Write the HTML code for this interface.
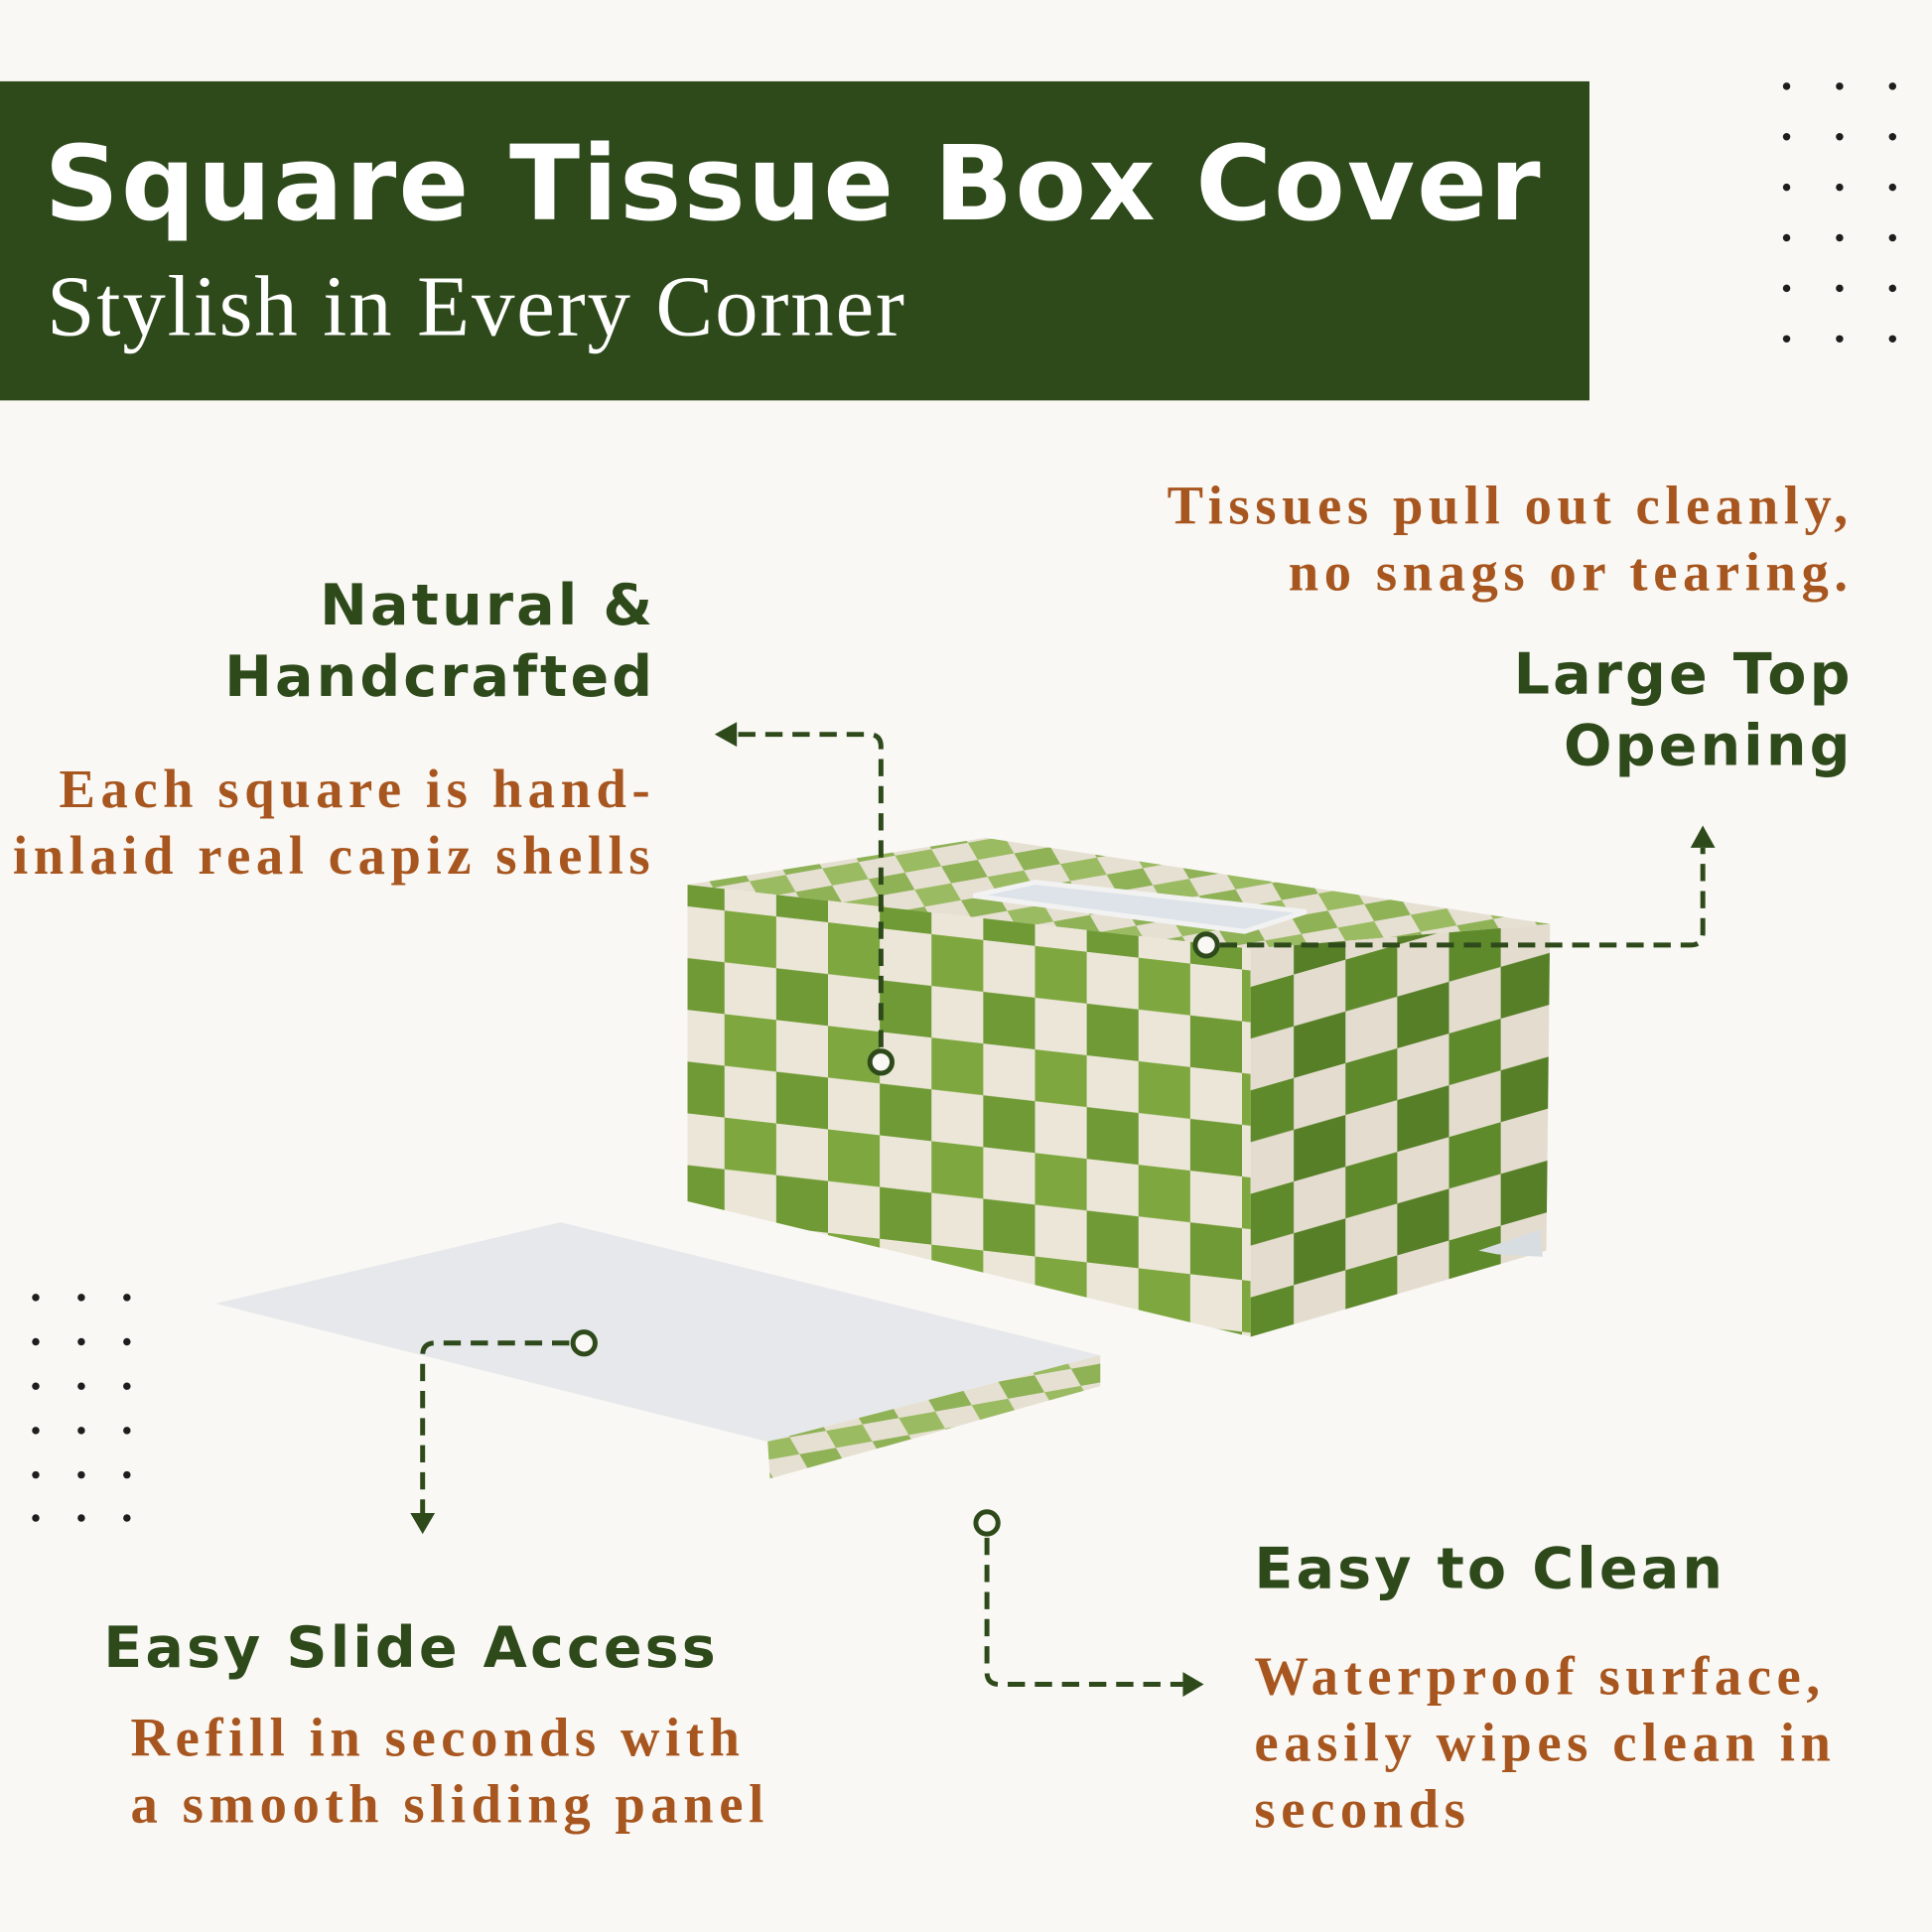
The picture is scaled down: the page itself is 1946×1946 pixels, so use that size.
<!DOCTYPE html>
<html><head><meta charset="utf-8"><style>
html,body{margin:0;padding:0;background:#f9f8f4;}
#wrap{width:1946px;height:1946px;overflow:hidden;position:relative;}
#s{width:1568px;height:1568px;position:absolute;left:0;top:0;transform:scale(1.24107);transform-origin:0 0;background:#f9f8f4;}
.t{position:absolute;white-space:nowrap;}
.h{font-family:"DejaVu Sans","Liberation Sans",sans-serif;font-weight:bold;color:#2e4a1b;font-size:46px;letter-spacing:2.5px;line-height:58px;}
.b{font-family:"Liberation Serif","DejaVu Serif",serif;font-weight:bold;color:#a8561f;font-size:44px;line-height:54px;letter-spacing:4.5px;}
</style></head><body><div id="wrap"><div id="s">
<div style="position:absolute;left:0;top:66px;width:1290px;height:259px;background:#2e4a1b"></div>
<div class="t" style="left:36px;top:100px;font-family:'DejaVu Sans','Liberation Sans',sans-serif;font-weight:bold;font-size:84px;color:#fff;letter-spacing:1.8px">Square Tissue Box Cover</div>
<div class="t" style="left:38px;top:210px;font-family:'Liberation Serif',serif;font-size:70px;color:#fff;letter-spacing:1.5px">Stylish in Every Corner</div>

<div class="t h" style="right:1036px;top:462px;text-align:right">Natural &amp;<br>Handcrafted</div>
<div class="t b" style="right:1036px;top:614px;text-align:right">Each square is hand-<br>inlaid real capiz shells</div>
<div class="t b" style="right:64px;top:384px;text-align:right">Tissues pull out cleanly,<br>no snags or tearing.</div>
<div class="t h" style="right:64px;top:518px;text-align:right">Large Top<br>Opening</div>
<div class="t h" style="left:84px;top:1308px">Easy Slide Access</div>
<div class="t b" style="left:106px;top:1384px">Refill in seconds with<br>a smooth sliding panel</div>
<div class="t h" style="left:1018px;top:1244px">Easy to Clean</div>
<div class="t b" style="left:1018px;top:1334px">Waterproof surface,<br>easily wipes clean in<br>seconds</div>

<svg width="1568" height="1568" style="position:absolute;left:0;top:0">
<defs>
<pattern id="ck" width="84" height="84" patternUnits="userSpaceOnUse" patternTransform="skewY(6.5)">
<rect width="84" height="84" fill="#ece6d8"/><rect width="42" height="42" fill="#7ea83f"/><rect x="42" y="42" width="42" height="42" fill="#6f9a35"/></pattern>
<pattern id="ck2" width="84" height="84" patternUnits="userSpaceOnUse" patternTransform="skewY(-16)">
<rect width="84" height="84" fill="#e4ddcf"/><rect width="42" height="42" fill="#5f8a2c"/><rect x="42" y="42" width="42" height="42" fill="#567f28"/></pattern>
<pattern id="ck3" width="60" height="30" patternUnits="userSpaceOnUse" patternTransform="rotate(-10) skewX(20)">
<rect width="60" height="30" fill="#e6e0d2"/><rect width="30" height="15" fill="#9bbb62"/><rect x="30" y="15" width="30" height="15" fill="#8fb257"/></pattern>
</defs>
<g fill="#1e1e1e">
<g id="d1"><circle cx="1450" cy="70" r="3"/><circle cx="1493" cy="70" r="3"/><circle cx="1536" cy="70" r="3"/></g>
<use href="#d1" y="41"/><use href="#d1" y="82"/><use href="#d1" y="123"/><use href="#d1" y="164"/><use href="#d1" y="205"/>
<g id="d2"><circle cx="29" cy="1053" r="3"/><circle cx="66" cy="1053" r="3"/><circle cx="103" cy="1053" r="3"/></g>
<use href="#d2" y="36"/><use href="#d2" y="72"/><use href="#d2" y="108"/><use href="#d2" y="144"/><use href="#d2" y="179"/>
</g>
<polygon points="558,718 800,680 1258,750 1015,770" fill="url(#ck3)"/>
<polygon points="790,727 840,716 1060,740 1010,756" fill="#dde3e8" stroke="#f2f2f2" stroke-width="4"/>
<polygon points="558,718 1015,770 1015,1085 558,975" fill="url(#ck)"/>
<polygon points="1015,770 1258,750 1255,1015 1015,1085" fill="url(#ck2)"/>
<polygon points="1200,1015 1250,998 1252,1020 1215,1018" fill="#d8dde2"/>
<polygon points="175,1058 455,992 893,1100 623,1170" fill="#e6e8eb"/>
<polygon points="623,1170 893,1100 893,1125 625,1200" fill="url(#ck3)"/>
<g fill="none" stroke="#2e4a1b" stroke-width="4" stroke-dasharray="14,8">
<path d="M715,850 V606 Q715,596 705,596 H598"/>
<path d="M990,767 H1372 Q1382,767 1382,757 V688"/>
<path d="M462,1090 H353 Q343,1090 343,1100 V1228"/>
<path d="M801,1248 V1357 Q801,1367 811,1367 H960"/>
</g>
<g fill="#f9f8f4" stroke="#2e4a1b" stroke-width="4">
<circle cx="715" cy="862" r="9"/><circle cx="979" cy="767" r="9"/><circle cx="474" cy="1090" r="9"/><circle cx="801" cy="1236" r="9"/>
</g>
<g fill="#2e4a1b">
<polygon points="580,596 598,586 598,606"/>
<polygon points="1382,670 1372,688 1392,688"/>
<polygon points="343,1245 333,1228 353,1228"/>
<polygon points="977,1367 960,1357 960,1377"/>
</g>
</svg>
</div></div></body></html>
